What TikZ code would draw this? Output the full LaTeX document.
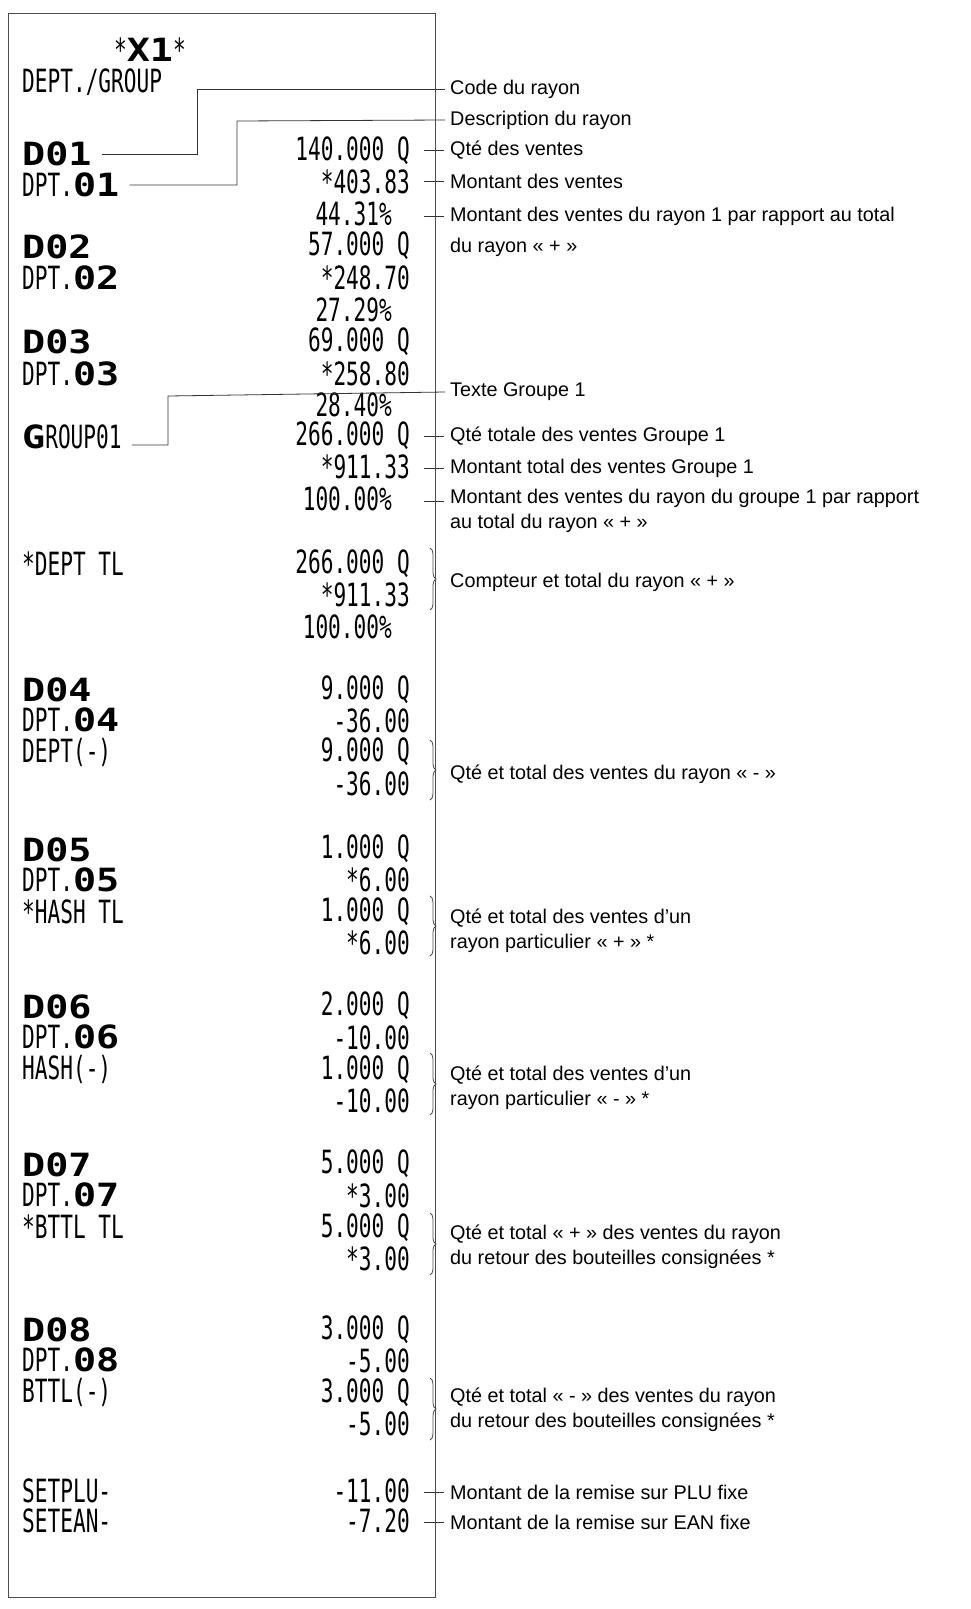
\documentclass[tikz,border=0pt]{standalone}
\usepackage{fontspec}
\setmainfont{Liberation Sans}
\newfontfamily\rc[FakeStretch=0.66]{DejaVu Sans Mono}
\newfontfamily\rcb[FakeStretch=1.2]{DejaVu Sans Mono}
\usetikzlibrary{decorations.pathreplacing}
\begin{document}
\begin{tikzpicture}[x=1pt,y=-1pt,
  L/.style={anchor=west,inner sep=0pt,font=\rc\fontsize{32}{32}\selectfont},
  R/.style={anchor=east,inner sep=0pt,font=\rc\fontsize{32}{32}\selectfont},
  T/.style={anchor=west,inner sep=0pt,font=\fontsize{19.8}{24}\selectfont,align=left},
  T2/.style={T,font=\fontsize{19.8}{25}\selectfont},
  ln/.style={line width=0.8pt,black!80},
  br/.style={decorate,decoration={brace,amplitude=6pt},line width=0.8pt,black!70}]
\useasboundingbox (0,0) rectangle (971,1609);
\draw[line width=1pt,black!70] (8,13) rectangle (435,1597);
\newcommand\B[1]{{\rcb\bfseries #1}}
\node[anchor=center,inner sep=0pt,font=\rc\fontsize{32}{32}\selectfont] (x1) at (150,50) {*\B{X1}*};
\node[L] (dg) at (22,82) {DEPT./GROUP};
\node[L] (d01) at (22,154) {\B{D01}};
\node[L] (p01) at (22,185) {DPT.\B{01}};
\node[L] (d02) at (22,247) {\B{D02}};
\node[L] (p02) at (22,278) {DPT.\B{02}};
\node[L] (d03) at (22,342) {\B{D03}};
\node[L] (p03) at (22,374) {DPT.\B{03}};
\node[L] (g01) at (22,437) {\B{G}ROUP01};
\node[L] (dtl) at (22,564) {*DEPT TL};
\node[L] (d04) at (22,690) {\B{D04}};
\node[L] (p04) at (22,720) {DPT.\B{04}};
\node[L] (dm) at (22,752) {DEPT(-)};
\node[L] (d05) at (22,850) {\B{D05}};
\node[L] (p05) at (22,880) {DPT.\B{05}};
\node[L] (htl) at (22,912) {*HASH TL};
\node[L] (d06) at (22,1007) {\B{D06}};
\node[L] (p06) at (22,1037) {DPT.\B{06}};
\node[L] (hm) at (22,1069) {HASH(-)};
\node[L] (d07) at (22,1165) {\B{D07}};
\node[L] (p07) at (22,1195) {DPT.\B{07}};
\node[L] (btl) at (22,1227) {*BTTL TL};
\node[L] (d08) at (22,1330) {\B{D08}};
\node[L] (p08) at (22,1360) {DPT.\B{08}};
\node[L] (bm) at (22,1392) {BTTL(-)};
\node[L] (sp) at (22,1491) {SETPLU-};
\node[L] (se) at (22,1521) {SETEAN-};
\node[R] (r1) at (410,151) {140.000 Q};
\node[R] (r2) at (410,182) {*403.83};
\node[R] (r3) at (392,214) {44.31\%};
\node[R] (r4) at (410,246) {57.000 Q};
\node[R] (r5) at (410,278) {*248.70};
\node[R] (r6) at (392,310) {27.29\%};
\node[R] (r7) at (410,342) {69.000 Q};
\node[R] (r8) at (410,374) {*258.80};
\node[R] (r9) at (392,405) {28.40\%};
\node[R] (r10) at (410,436) {266.000 Q};
\node[R] (r11) at (410,467) {*911.33};
\node[R] (r12) at (392,499) {100.00\%};
\node[R] (r13) at (410,564) {266.000 Q};
\node[R] (r14) at (410,595) {*911.33};
\node[R] (r15) at (392,627) {100.00\%};
\node[R] (r16) at (410,690) {9.000 Q};
\node[R] (r17) at (410,721) {-36.00};
\node[R] (r18) at (410,752) {9.000 Q};
\node[R] (r19) at (410,784) {-36.00};
\node[R] (r20) at (410,849) {1.000 Q};
\node[R] (r21) at (410,880) {*6.00};
\node[R] (r22) at (410,912) {1.000 Q};
\node[R] (r23) at (410,943) {*6.00};
\node[R] (r24) at (410,1006) {2.000 Q};
\node[R] (r25) at (410,1038) {-10.00};
\node[R] (r26) at (410,1070) {1.000 Q};
\node[R] (r27) at (410,1101) {-10.00};
\node[R] (r28) at (410,1164) {5.000 Q};
\node[R] (r29) at (410,1196) {*3.00};
\node[R] (r30) at (410,1228) {5.000 Q};
\node[R] (r31) at (410,1259) {*3.00};
\node[R] (r32) at (410,1330) {3.000 Q};
\node[R] (r33) at (410,1361) {-5.00};
\node[R] (r34) at (410,1393) {3.000 Q};
\node[R] (r35) at (410,1424) {-5.00};
\node[R] (r36) at (410,1491) {-11.00};
\node[R] (r37) at (410,1521) {-7.20};
\node[T] (t1) at (450,89) {Code du rayon};
\node[T] (t2) at (450,120) {Description du rayon};
\node[T] (t3) at (450,150) {Qté des ventes};
\node[T] (t4) at (450,181) {Montant des ventes};
\node[T] (t5) at (450,216) {Montant des ventes du rayon 1 par rapport au total};
\node[T] (t5b) at (450,247) {du rayon « + »};
\node[T] (t6) at (450,392) {Texte Groupe 1};
\node[T] (t7) at (450,436) {Qté totale des ventes Groupe 1};
\node[T] (t8) at (450,468) {Montant total des ventes Groupe 1};
\node[T2] (t9) at (450,511) {Montant des ventes du rayon du groupe 1 par rapport\\au total du rayon « + »};
\node[T] (t10) at (450,582) {Compteur et total du rayon « + »};
\node[T] (t11) at (450,774) {Qté et total des ventes du rayon « - »};
\node[T2] (t12) at (450,931) {Qté et total des ventes d’un\\rayon particulier « + » *};
\node[T2] (t13) at (450,1088) {Qté et total des ventes d’un\\rayon particulier « - » *};
\node[T2] (t14) at (450,1247) {Qté et total « + » des ventes du rayon\\du retour des bouteilles consignées *};
\node[T2] (t15) at (450,1410) {Qté et total « - » des ventes du rayon\\du retour des bouteilles consignées *};
\node[T] (t16) at (450,1492) {Montant de la remise sur PLU fixe};
\node[T] (t17) at (450,1522) {Montant de la remise sur EAN fixe};
\draw[ln] ([xshift=-5pt]t1.west) -- (197,89) -- (197,154) -- ([xshift=10pt]d01.east|-197,154);
\draw[ln] ([xshift=-5pt]t2.west) -- (237,121) -- (237,185) -- ([xshift=10pt]p01.east|-237,185);
\draw[ln] ([xshift=-5pt]t6.west) -- (168,396) -- (168,445) -- ([xshift=10pt]g01.east|-168,445);
\foreach \t in {t3,t4,t5,t7,t8,t16,t17}{\draw[ln] ([xshift=-6pt]\t.west) -- ++(-20,0);}
\draw[ln] ([xshift=-6pt,yshift=-12pt]t9.north west) -- ++(-20,0);
\draw[br] (430,548) -- (430,610);
\draw[br] (430,740) -- (430,800);
\draw[br] (430,896) -- (430,956);
\draw[br] (430,1053) -- (430,1115);
\draw[br] (430,1213) -- (430,1275);
\draw[br] (430,1378) -- (430,1440);
\end{tikzpicture}
\end{document}
